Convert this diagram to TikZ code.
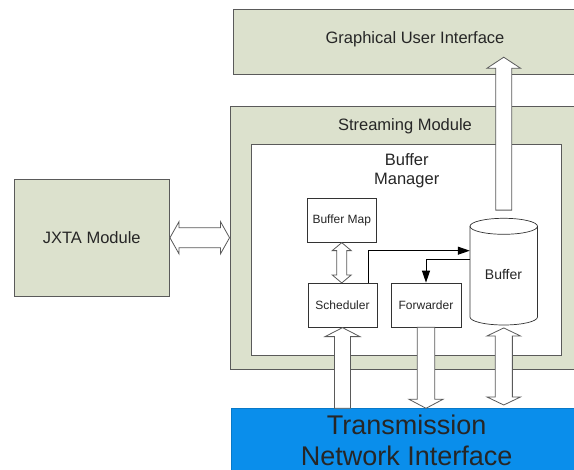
\documentclass[tikz,border=0pt]{standalone}
\usepackage{fontspec}
\setmainfont{Liberation Sans}
\usetikzlibrary{calc,arrows.meta}
\definecolor{panel}{HTML}{DCE1CD}
\definecolor{netblue}{HTML}{0A8EEB}
\definecolor{edge}{HTML}{5A5A5A}
\definecolor{ink}{HTML}{262626}

% Hollow block arrow: #1 tail, #2 tip, #3 shaft half width, #4 head half width, #5 head length
\newcommand\hollowarrow[5]{%
  \coordinate (ha-h) at ($(#2)!#5!(#1)$);
  \draw[blockarrow] ($(#1)!#3!90:(#2)$) -- ($(ha-h)!#3!-90:(#1)$) -- ($(ha-h)!#4!-90:(#1)$)
    -- (#2) -- ($(ha-h)!#4!90:(#1)$) -- ($(ha-h)!#3!90:(#1)$) -- ($(#1)!#3!-90:(#2)$) -- cycle;
}
% Hollow double-headed block arrow between #1 and #2
\newcommand\hollowdouble[5]{%
  \coordinate (hd-a) at ($(#2)!#5!(#1)$);
  \coordinate (hd-b) at ($(#1)!#5!(#2)$);
  \draw[blockarrow] (#1) -- ($(hd-b)!#4!90:(#2)$) -- ($(hd-b)!#3!90:(#2)$)
    -- ($(hd-a)!#3!-90:(#1)$) -- ($(hd-a)!#4!-90:(#1)$) -- (#2)
    -- ($(hd-a)!#4!90:(#1)$) -- ($(hd-a)!#3!90:(#1)$)
    -- ($(hd-b)!#3!-90:(#2)$) -- ($(hd-b)!#4!-90:(#2)$) -- cycle;
}

\begin{document}
\begin{tikzpicture}[x=1pt,y=-1pt,
  panelbox/.style={draw=edge,line width=0.9pt,fill=panel,inner sep=0pt},
  managerbox/.style={draw=edge,line width=0.9pt,fill=white,inner sep=0pt},
  smallbox/.style={draw=black!80,line width=0.7pt,fill=white,inner sep=0pt,
    minimum width=69pt,minimum height=44pt,font=\fontsize{12}{14}\selectfont,text=ink},
  biglabel/.style={inner sep=0pt,font=\fontsize{16.5}{19.3}\selectfont,text=ink,align=center},
  blockarrow/.style={draw=edge,line width=0.8pt,fill=white,line join=miter},
  cylline/.style={draw=black!80,line width=0.7pt,fill=white},
  flowline/.style={draw=black,line width=1pt,-{Triangle[length=12pt,width=8pt]}}]
\useasboundingbox (0,0) rectangle (574,470);
\clip (0,0) rectangle (574,470);
\fill[white] (0,0) rectangle (574,470);

% Outer modules
\node[panelbox,minimum width=363.7pt,minimum height=64.7pt] (gui) at (415,41.7) {};
\node[biglabel] (guit) at (415,39) {Graphical User Interface};
\node[panelbox,minimum width=350pt,minimum height=263.3pt] (sm) at (405,237.7) {};
\node[biglabel] (smt) at (405,126) {Streaming Module};
\node[managerbox,minimum width=310.2pt,minimum height=211pt] (bm) at (406.6,249.5) {};
\node[biglabel] (bmt) at (406.7,171) {Buffer\\Manager};
\node[panelbox,biglabel,minimum width=155.5pt,minimum height=117.5pt] (jx) at (91.75,237.75) {JXTA Module};

% Network interface
\node[fill=netblue,draw=netblue!85!black,line width=0.5pt,inner sep=0pt,
  minimum width=360pt,minimum height=80pt,anchor=north west] (tni) at (230.7,408.3) {};
\node[inner sep=0pt,font=\fontsize{27}{31}\selectfont,text=ink,align=center] (tnit)
  at (406.7,440.5) {Transmission\\Network Interface};

% Buffer manager components
\node[smallbox,minimum width=68.5pt] (bmap) at (341.75,220.3) {Buffer Map};
\node[smallbox] (sched) at (342.5,305.3) {Scheduler};
\node[smallbox,minimum width=70pt] (fwd) at (426,305) {Forwarder};

% Buffer store (cylinder)
\node[inner sep=0pt,minimum width=67.5pt,minimum height=106.7pt] (buf) at (503.75,271.7) {};
\draw[cylline] (470,226.3) -- (470,317)
  .. controls (470,321.42) and (485.11,325) .. (503.75,325)
  .. controls (522.39,325) and (537.5,321.42) .. (537.5,317) -- (537.5,226.3)
  .. controls (537.5,221.88) and (522.39,218.3) .. (503.75,218.3)
  .. controls (485.11,218.3) and (470,221.88) .. (470,226.3) -- cycle;
\draw[cylline,fill=none] (470,226.3)
  .. controls (470,230.72) and (485.11,234.3) .. (503.75,234.3)
  .. controls (522.39,234.3) and (537.5,230.72) .. (537.5,226.3);
\node[inner sep=0pt,font=\fontsize{14}{16}\selectfont,text=ink] (buft) at (503.5,275) {Buffer};

% Control flow inside the buffer manager
\coordinate (sc1) at ([xshift=-8.7pt]sched.north east);
\draw[flowline] (sc1) |- ($(buf.west)+(0,-21)$);
\draw[flowline] ($(buf.west)+(0,-11.7)$) -| (fwd.north);

% Data flow block arrows
\coordinate (jxa) at (jx.east);
\coordinate (jxb) at (jx.east -| sm.west);
\hollowdouble{jxa}{jxb}{10pt}{16pt}{9pt}

\coordinate (bma) at (bmap.south);
\coordinate (bmb) at (bmap.south |- sched.north);
\hollowdouble{bma}{bmb}{5pt}{9.5pt}{8pt}

\coordinate (sca) at (sched.south |- tni.north);
\coordinate (scb) at (sched.south);
\hollowarrow{sca}{scb}{8pt}{17.5pt}{9pt}

\coordinate (fwa) at (fwd.south);
\coordinate (fwb) at (fwd.south |- tni.north);
\hollowarrow{fwa}{fwb}{8.8pt}{17pt}{9pt}

\coordinate (bfa) at ($(buf.south)+(0,2.7)$);
\coordinate (bfb) at ($(buf.south |- tni.north)+(0,-3.3)$);
\hollowdouble{bfa}{bfb}{8.6pt}{16.7pt}{8pt}

\coordinate (upa) at ($(buf.north)+(0,-8)$);
\coordinate (upb) at ($(upa |- gui.south)+(0,-17.3)$);
\hollowarrow{upa}{upb}{8pt}{16.7pt}{11pt}
\end{tikzpicture}
\end{document}
